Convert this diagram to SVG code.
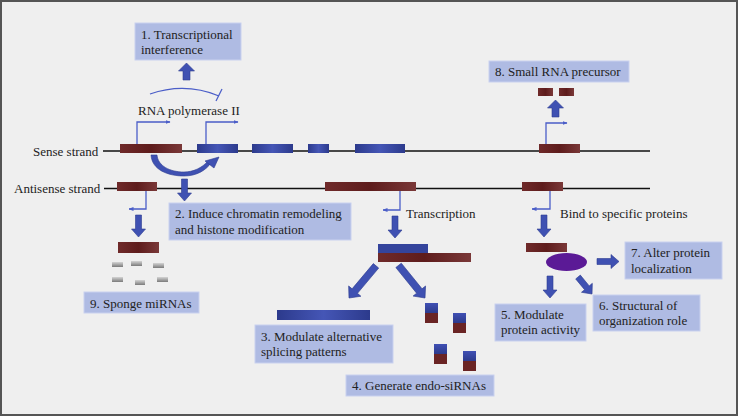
<svg xmlns="http://www.w3.org/2000/svg" width="738" height="417" viewBox="0 0 738 417">
<style>
  .t{font-family:"Liberation Serif","Times New Roman","DejaVu Serif",serif;font-size:13px;fill:#222}
  .box{fill:#afbbe3;stroke:#c9d1ef;stroke-width:1}
  .strand{stroke:#111;stroke-width:1.5}
  .thin{fill:none;stroke:#4b5ec8;stroke-width:1.3}
  .blk{fill:#3f51b2;stroke:#2e3d90;stroke-width:0.6}
  .red{fill:url(#gRed)}
  .blue{fill:url(#gBlue)}
  .gray{fill:url(#gGray)}
</style>
<defs>
  <linearGradient id="gRed" x1="0" y1="0" x2="1" y2="0">
    <stop offset="0" stop-color="#6f2a2a"/>
    <stop offset="0.5" stop-color="#5e1c1c"/>
    <stop offset="1" stop-color="#7a3838"/>
  </linearGradient>
  <linearGradient id="gBlue" x1="0" y1="0" x2="1" y2="0">
    <stop offset="0" stop-color="#2c3a8c"/>
    <stop offset="0.5" stop-color="#4556b6"/>
    <stop offset="1" stop-color="#2c3a8c"/>
  </linearGradient>
  <linearGradient id="gGray" x1="0" y1="0" x2="0" y2="1">
    <stop offset="0" stop-color="#d4d4d4"/>
    <stop offset="1" stop-color="#7a7a7a"/>
  </linearGradient>
  <linearGradient id="gSiB" x1="0" y1="0" x2="0" y2="1">
    <stop offset="0" stop-color="#4050b4"/>
    <stop offset="1" stop-color="#2c3a8c"/>
  </linearGradient>
  <marker id="mh" viewBox="0 0 10 10" refX="9" refY="5" markerWidth="5" markerHeight="5" orient="auto" markerUnits="userSpaceOnUse">
    <path d="M0,1 L10,5 L0,9 z" fill="#4b5ec8"/>
  </marker>
  <polygon id="a22" points="0,0 -7,-8 -3,-8 -3,-22 3,-22 3,-8 7,-8"/>
  <polygon id="a17" points="0,0 -8,-8 -3.5,-8 -3.5,-17 3.5,-17 3.5,-8 8,-8"/>
  <polygon id="a42" points="0,0 -8,-9 -3.5,-9 -3.5,-42 3.5,-42 3.5,-9 8,-9"/>
  <g id="si">
    <rect x="0" y="0" width="13" height="10" fill="url(#gSiB)"/>
    <rect x="0" y="10" width="13" height="10" fill="#6a2424"/>
  </g>
</defs>

<rect x="1" y="1" width="736" height="414" fill="#efefef" stroke="#555" stroke-width="2"/>

<g id="strands">
  <line class="strand" x1="103" y1="151" x2="650" y2="151"/>
  <line class="strand" x1="104" y1="188.5" x2="650" y2="188.5"/>
  <text class="t" x="33" y="156">Sense strand</text>
  <text class="t" x="14" y="193">Antisense strand</text>
</g>

<g id="sense-exons">
  <rect class="red" x="120" y="144" width="62" height="9"/>
  <rect class="blue" x="197" y="144" width="41" height="9"/>
  <rect class="blue" x="252" y="144" width="41" height="9"/>
  <rect class="blue" x="308" y="144" width="21" height="9"/>
  <rect class="blue" x="355" y="144" width="50" height="9"/>
  <rect class="red" x="539" y="144" width="41" height="9"/>
</g>

<g id="antisense-exons">
  <rect class="red" x="117" y="182" width="40" height="9"/>
  <rect class="red" x="325" y="182" width="91" height="9"/>
  <rect class="red" x="522" y="182" width="41" height="9"/>
</g>

<g id="node1">
  <rect class="box" x="135" y="23" width="106" height="37"/>
  <text class="t" x="141" y="39">1. Transcriptional</text>
  <text class="t" x="141" y="54">interference</text>
</g>

<g id="rnapol">
  <text class="t" x="138" y="115">RNA polymerase II</text>
</g>

<g id="node2">
  <rect class="box" x="169" y="203" width="182" height="37"/>
  <text class="t" x="175" y="218">2. Induce chromatin remodeling</text>
  <text class="t" x="175" y="233.5">and histone modification</text>
</g>

<g id="node9">
  <rect class="red" x="118" y="242" width="41" height="11"/>
  <rect class="gray" x="112" y="262" width="11" height="5"/>
  <rect class="gray" x="131" y="261" width="11" height="5"/>
  <rect class="gray" x="153" y="263" width="11" height="5"/>
  <rect class="gray" x="112" y="277" width="11" height="5"/>
  <rect class="gray" x="135" y="280" width="10" height="5"/>
  <rect class="gray" x="157" y="277" width="11" height="5"/>
  <rect class="box" x="84" y="292" width="115" height="21"/>
  <text class="t" x="90" y="308">9. Sponge miRNAs</text>
</g>

<g id="transcript">
  <text class="t" x="406" y="218">Transcription</text>
  <rect class="red" x="378" y="253" width="93" height="9"/>
  <rect x="378" y="244" width="50" height="9" fill="#34449c"/>
</g>

<g id="node3">
  <rect class="blue" x="277" y="310" width="93" height="10"/>
  <rect class="box" x="255" y="325" width="138" height="38"/>
  <text class="t" x="261" y="341">3. Modulate alternative</text>
  <text class="t" x="261" y="356">splicing patterns</text>
</g>

<g id="node4">
  <use href="#si" x="425" y="303"/>
  <use href="#si" x="453" y="313"/>
  <use href="#si" x="434" y="344"/>
  <use href="#si" x="463" y="351"/>
  <rect class="box" x="346" y="375" width="148" height="21"/>
  <text class="t" x="352" y="390">4. Generate endo-siRNAs</text>
</g>

<g id="protein">
  <text class="t" x="560" y="218">Bind to specific proteins</text>
  <rect class="red" x="526" y="243" width="41" height="9"/>
  <ellipse cx="566.5" cy="262" rx="20.5" ry="9" fill="#5b1a96"/>
</g>

<g id="node5">
  <rect class="box" x="495" y="304" width="91" height="37"/>
  <text class="t" x="501" y="319">5. Modulate</text>
  <text class="t" x="501" y="334">protein activity</text>
</g>

<g id="node6">
  <rect class="box" x="593" y="295" width="107" height="36"/>
  <text class="t" x="599" y="310">6. Structural of</text>
  <text class="t" x="599" y="325">organization role</text>
</g>

<g id="node7">
  <rect class="box" x="625" y="242" width="97" height="37"/>
  <text class="t" x="631" y="257">7. Alter protein</text>
  <text class="t" x="631" y="272.5">localization</text>
</g>

<g id="node8">
  <rect class="box" x="489" y="61" width="140" height="21"/>
  <text class="t" x="495" y="76">8. Small RNA precursor</text>
  <rect class="red" x="538" y="88" width="15" height="8"/>
  <rect class="red" x="559" y="88" width="15" height="8"/>
</g>

<g id="connectors">
  <!-- promoter arrows -->
  <path class="thin" d="M137,144 V122 H170" marker-end="url(#mh)"/>
  <path class="thin" d="M206,144 V122 H238" marker-end="url(#mh)"/>
  <path class="thin" d="M546,144 V123 H567" marker-end="url(#mh)"/>
  <!-- antisense transcription arrows -->
  <path class="thin" d="M146,191 V209 H129" marker-end="url(#mh)"/>
  <path class="thin" d="M400,191 V210 H383" marker-end="url(#mh)"/>
  <path class="thin" d="M550,191 V209 H532" marker-end="url(#mh)"/>
  <!-- inhibition -->
  <path class="thin" d="M150,94 Q185,82 219,96"/>
  <line class="thin" x1="222" y1="89" x2="216" y2="101"/>
  <!-- crescent arrow -->
  <path class="blk" d="M151,155 C152,170 168,176 184,176 C197,176 206,170 211,163 L208,161 C202,168 193,172 184,172 C170,172 158,166 157,155 Z"/>
  <polygon class="blk" points="219,157 205,161 214,168"/>
  <!-- block arrows -->
  <use href="#a17" class="blk" transform="translate(186.5,63) rotate(180)"/>
  <use href="#a22" class="blk" transform="translate(184.5,201)"/>
  <use href="#a22" class="blk" transform="translate(138.5,237)"/>
  <use href="#a22" class="blk" transform="translate(395,238)"/>
  <use href="#a22" class="blk" transform="translate(544,237)"/>
  <use href="#a22" class="blk" transform="translate(550,298)"/>
  <use href="#a22" class="blk" transform="translate(619,261.5) rotate(-90)"/>
  <use href="#a22" class="blk" transform="translate(592,294) rotate(-39.5)"/>
  <use href="#a17" class="blk" transform="translate(555.5,100) rotate(180)"/>
  <use href="#a42" class="blk" transform="translate(349,298) rotate(40)"/>
  <use href="#a42" class="blk" transform="translate(425,298) rotate(-39)"/>
</g>
</svg>
